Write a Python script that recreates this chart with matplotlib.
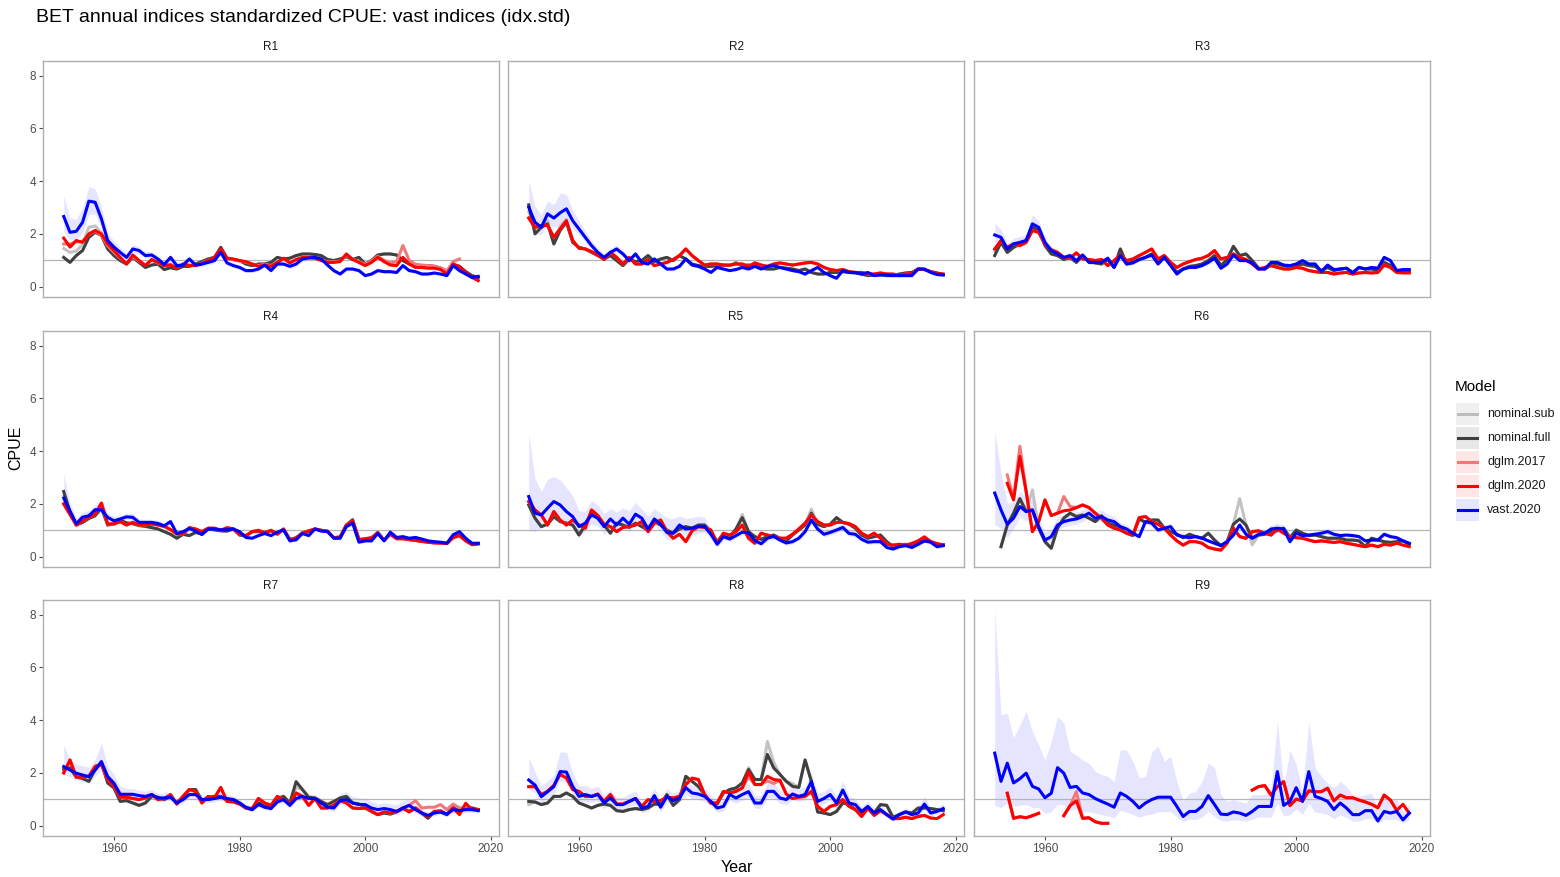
import matplotlib
matplotlib.use('Agg')
import matplotlib.pyplot as plt
import numpy as np
from matplotlib.patches import Rectangle

plt.rcParams['font.family'] = ['Liberation Sans', 'DejaVu Sans']

YEARS = list(range(1952, 2019))
REGIONS = ['R1', 'R2', 'R3', 'R4', 'R5', 'R6', 'R7', 'R8', 'R9']
MODELS = ['nominal.sub', 'nominal.full', 'dglm.2017', 'dglm.2020', 'vast.2020']
TITLE = 'BET annual indices standardized CPUE: vast indices (idx.std)'
X_TICKS = [1960, 1980, 2000, 2020]
Y_TICKS = [0, 2, 4, 6, 8]

# ---------------- R1 ----------------
R1_vast = [2.66, 2.06, 2.10, 2.44, 3.24, 3.20, 2.57, 1.75, 1.50, 1.30,
           1.11, 1.43, 1.37, 1.18, 1.20, 1.05, 0.84, 1.11, 0.80, 0.82,
           1.05, 0.82, 0.86, 0.92, 0.99, 1.30, 0.90, 0.80, 0.73, 0.61,
           0.61, 0.67, 0.82, 0.61, 0.86, 0.86, 0.77, 0.86, 1.05, 1.09,
           1.11, 1.05, 0.82, 0.61, 0.48, 0.67, 0.67, 0.61, 0.42, 0.48,
           0.61, 0.57, 0.57, 0.54, 0.80, 0.61, 0.57, 0.48, 0.48, 0.52,
           0.48, 0.42, 0.80, 0.61, 0.48, 0.35, 0.39]
R1_vast_up = [0.80, 0.55, 0.45, 0.55, 0.55, 0.50, 0.45, 0.30, 0.22, 0.18,
              0.15, 0.15, 0.14, 0.14, 0.13, 0.13, 0.12, 0.12, 0.12, 0.12,
              0.12, 0.11, 0.11, 0.11, 0.11, 0.12, 0.10, 0.10, 0.10, 0.09,
              0.09, 0.09, 0.10, 0.09, 0.10, 0.10, 0.09, 0.10, 0.11, 0.11,
              0.11, 0.11, 0.10, 0.09, 0.08, 0.09, 0.09, 0.09, 0.08, 0.08,
              0.09, 0.09, 0.09, 0.08, 0.10, 0.09, 0.09, 0.08, 0.08, 0.08,
              0.08, 0.08, 0.10, 0.09, 0.08, 0.07, 0.08]
R1_vast_dn = [0.55, 0.30, 0.30, 0.40, 0.50, 0.45, 0.35, 0.20, 0.15, 0.12,
              0.11, 0.12, 0.12, 0.11, 0.11, 0.10, 0.09, 0.10, 0.09, 0.09,
              0.10, 0.09, 0.09, 0.09, 0.09, 0.10, 0.09, 0.08, 0.08, 0.07,
              0.07, 0.07, 0.08, 0.07, 0.08, 0.08, 0.08, 0.08, 0.09, 0.09,
              0.09, 0.09, 0.08, 0.07, 0.06, 0.07, 0.07, 0.07, 0.06, 0.06,
              0.07, 0.07, 0.07, 0.06, 0.08, 0.07, 0.07, 0.06, 0.06, 0.06,
              0.06, 0.06, 0.08, 0.07, 0.06, 0.05, 0.06]
R1_dglm20 = [1.84, 1.50, 1.75, 1.68, 2.00, 2.13, 2.00, 1.62, 1.37, 1.11,
             0.86, 1.20, 0.99, 0.80, 1.03, 0.92, 0.80, 0.82, 0.70, 0.86,
             0.80, 0.80, 0.86, 0.99, 1.11, 1.43, 1.08, 1.05, 0.99, 0.95,
             0.86, 0.77, 0.82, 0.77, 0.92, 1.08, 0.90, 1.03, 1.11, 1.11,
             1.08, 0.99, 0.92, 0.92, 0.95, 1.24, 1.03, 0.92, 0.80, 0.92,
             1.11, 0.95, 0.82, 0.80, 1.11, 0.86, 0.73, 0.73, 0.70, 0.70,
             0.65, 0.48, 0.86, 0.77, 0.54, 0.35, 0.23]
R1_dglm17 = [1.62, 1.62, 1.70, 1.72, 1.98, 2.10, 1.95, 1.55, 1.30, 1.08,
             0.88, 1.15, 0.97, 0.82, 1.00, 0.90, 0.82, 0.85, 0.72, 0.86,
             0.82, 0.82, 0.88, 1.00, 1.10, 1.40, 1.05, 1.02, 0.97, 0.93,
             0.86, 0.80, 0.85, 0.80, 0.92, 1.05, 0.92, 1.02, 1.08, 1.10,
             1.08, 1.00, 0.95, 0.95, 0.97, 1.20, 1.05, 0.95, 0.85, 0.97,
             1.15, 1.00, 0.90, 0.95, 1.56, 1.00, 0.85, 0.82, 0.80, 0.78,
             0.72, 0.60, 0.95, 1.05, None, None, None]
R1_nomfull = [1.11, 0.92, 1.18, 1.37, 1.87, 2.06, 1.94, 1.43, 1.18, 0.99,
              0.86, 1.11, 0.92, 0.73, 0.82, 0.86, 0.65, 0.72, 0.67, 0.77,
              0.77, 0.86, 0.95, 1.05, 1.11, 1.49, 1.08, 1.03, 0.99, 0.86,
              0.80, 0.86, 0.86, 0.92, 1.11, 1.05, 1.08, 1.18, 1.24, 1.24,
              1.22, 1.18, 1.03, 0.99, 1.05, 1.14, 1.03, 1.11, 0.86, 0.99,
              1.20, 1.24, 1.24, 1.20, 0.99, 0.86, 0.80, 0.80, 0.80, 0.77,
              0.70, 0.57, 0.80, 0.77, 0.57, 0.42, 0.35]
R1_nomsub_diff = {1952: 1.45, 1953: 1.30, 1954: 1.35, 1955: 1.60, 1956: 2.25,
                  1957: 2.30, 1958: 2.05, 1959: 1.50}

# ---------------- R2 ----------------
R2_vast = [3.01, 2.44, 2.25, 2.76, 2.60, 2.80, 2.95, 2.50, 2.19, 1.87,
           1.56, 1.30, 1.11, 1.30, 1.43, 1.24, 0.99, 1.24, 0.92, 0.86,
           1.05, 0.86, 0.67, 0.67, 0.77, 1.05, 0.82, 0.77, 0.67, 0.54,
           0.73, 0.67, 0.61, 0.65, 0.73, 0.67, 0.77, 0.67, 0.77, 0.80,
           0.73, 0.67, 0.61, 0.57, 0.48, 0.61, 0.73, 0.54, 0.42, 0.32,
           0.61, 0.54, 0.54, 0.48, 0.54, 0.42, 0.44, 0.44, 0.42, 0.42,
           0.42, 0.42, 0.67, 0.67, 0.54, 0.46, 0.44]
R2_vast_up = [1.00, 0.60, 0.50, 0.50, 0.50, 0.75, 0.55, 0.40, 0.30, 0.25,
              0.20, 0.16, 0.14, 0.15, 0.16, 0.14, 0.12, 0.14, 0.11, 0.10,
              0.12, 0.10, 0.08, 0.08, 0.09, 0.12, 0.09, 0.09, 0.08, 0.07,
              0.08, 0.08, 0.07, 0.07, 0.08, 0.08, 0.09, 0.08, 0.09, 0.09,
              0.08, 0.07, 0.06, 0.07, 0.08, 0.06, 0.05, 0.05, 0.07, 0.06,
              0.07, 0.06, 0.06, 0.06, 0.05, 0.05, 0.05, 0.05, 0.05, 0.05,
              0.05, 0.06, 0.08, 0.07, 0.06, 0.05, 0.05]
R2_vast_dn = [0.55, 0.40, 0.30, 0.35, 0.35, 0.40, 0.35, 0.30, 0.20, 0.16,
              0.14, 0.12, 0.10, 0.11, 0.12, 0.10, 0.09, 0.10, 0.08, 0.08,
              0.09, 0.08, 0.06, 0.06, 0.07, 0.09, 0.07, 0.07, 0.06, 0.05,
              0.06, 0.06, 0.05, 0.05, 0.06, 0.06, 0.07, 0.06, 0.07, 0.07,
              0.06, 0.05, 0.05, 0.05, 0.06, 0.05, 0.04, 0.04, 0.05, 0.05,
              0.05, 0.05, 0.05, 0.05, 0.04, 0.04, 0.04, 0.04, 0.04, 0.04,
              0.04, 0.05, 0.06, 0.05, 0.05, 0.04, 0.04]
R2_dglm20 = [2.60, 2.25, 2.32, 2.32, 1.87, 2.19, 2.50, 1.75, 1.46, 1.43,
             1.33, 1.20, 1.03, 1.30, 1.11, 0.86, 1.11, 0.86, 0.86, 1.03,
             0.80, 0.86, 0.92, 1.03, 1.18, 1.43, 1.18, 0.99, 0.82, 0.86,
             0.86, 0.82, 0.82, 0.86, 0.86, 0.77, 0.90, 0.82, 0.77, 0.86,
             0.90, 0.86, 0.82, 0.86, 0.90, 0.92, 0.86, 0.73, 0.65, 0.61,
             0.65, 0.57, 0.54, 0.54, 0.48, 0.48, 0.52, 0.48, 0.48, 0.42,
             0.48, 0.50, 0.67, 0.65, 0.57, 0.50, 0.48]
R2_nomfull = [3.10, 2.00, 2.25, 2.38, 1.62, 2.13, 2.44, 1.68, 1.49, 1.43,
              1.30, 1.18, 1.05, 1.18, 0.99, 0.80, 1.05, 0.95, 0.99, 1.18,
              0.95, 1.05, 1.11, 0.99, 1.18, 1.05, 0.86, 0.80, 0.77, 0.77,
              0.80, 0.82, 0.80, 0.90, 0.80, 0.82, 0.80, 0.70, 0.67, 0.67,
              0.73, 0.70, 0.67, 0.61, 0.67, 0.54, 0.48, 0.48, 0.54, 0.54,
              0.57, 0.54, 0.52, 0.48, 0.42, 0.44, 0.47, 0.42, 0.42, 0.48,
              0.52, 0.54, 0.67, 0.65, 0.57, 0.52, 0.47]
R2_nomsub_diff = {1952: 2.85, 1953: 2.20, 1955: 2.50, 1957: 2.30, 1958: 2.55}

# ---------------- R3 ----------------
R3_vast = [1.96, 1.87, 1.43, 1.62, 1.68, 1.75, 2.38, 2.25, 1.68, 1.37,
           1.24, 1.11, 1.18, 0.99, 1.20, 0.92, 0.92, 0.92, 1.08, 0.73,
           1.18, 0.86, 0.90, 1.03, 1.11, 1.20, 0.86, 1.11, 0.80, 0.48,
           0.67, 0.73, 0.73, 0.80, 0.92, 1.08, 0.70, 0.86, 1.20, 0.99,
           0.99, 0.90, 0.67, 0.67, 0.92, 0.92, 0.82, 0.80, 0.86, 0.99,
           0.86, 0.86, 0.57, 0.82, 0.65, 0.67, 0.70, 0.52, 0.73, 0.67,
           0.73, 0.70, 1.11, 0.99, 0.61, 0.65, 0.65]
R3_vast_up = [0.45, 0.30, 0.20, 0.22, 0.22, 0.22, 0.35, 0.25, 0.18, 0.14,
              0.12, 0.11, 0.12, 0.10, 0.12, 0.10, 0.10, 0.10, 0.11, 0.08,
              0.11, 0.09, 0.09, 0.10, 0.10, 0.11, 0.09, 0.10, 0.08, 0.06,
              0.07, 0.07, 0.07, 0.08, 0.09, 0.10, 0.07, 0.08, 0.11, 0.09,
              0.09, 0.08, 0.07, 0.07, 0.08, 0.08, 0.08, 0.07, 0.08, 0.09,
              0.08, 0.08, 0.06, 0.08, 0.06, 0.07, 0.07, 0.06, 0.07, 0.07,
              0.07, 0.07, 0.10, 0.09, 0.06, 0.06, 0.06]
R3_vast_dn = [0.30, 0.22, 0.15, 0.17, 0.17, 0.17, 0.25, 0.20, 0.14, 0.11,
              0.10, 0.09, 0.10, 0.08, 0.10, 0.08, 0.08, 0.08, 0.09, 0.07,
              0.09, 0.07, 0.07, 0.08, 0.08, 0.09, 0.07, 0.08, 0.07, 0.05,
              0.06, 0.06, 0.06, 0.07, 0.07, 0.08, 0.06, 0.07, 0.09, 0.07,
              0.07, 0.07, 0.06, 0.06, 0.07, 0.07, 0.07, 0.06, 0.07, 0.07,
              0.07, 0.07, 0.05, 0.07, 0.05, 0.06, 0.06, 0.05, 0.06, 0.06,
              0.06, 0.06, 0.08, 0.07, 0.05, 0.05, 0.05]
R3_dglm20 = [1.43, 1.75, 1.49, 1.62, 1.56, 1.68, 2.13, 2.06, 1.62, 1.40,
             1.30, 1.11, 1.08, 1.28, 1.05, 1.03, 0.99, 1.03, 0.80, 0.99,
             1.20, 0.99, 1.05, 1.18, 1.30, 1.43, 1.05, 1.18, 0.92, 0.73,
             0.86, 0.95, 1.03, 1.08, 1.18, 1.37, 1.05, 1.11, 1.24, 1.11,
             1.03, 0.86, 0.67, 0.73, 0.80, 0.73, 0.67, 0.67, 0.73, 0.70,
             0.61, 0.57, 0.54, 0.54, 0.48, 0.52, 0.54, 0.48, 0.52, 0.54,
             0.52, 0.54, 0.82, 0.73, 0.54, 0.52, 0.52]
R3_nomfull = [1.18, 1.68, 1.30, 1.49, 1.62, 1.75, 2.25, 2.13, 1.56, 1.24,
              1.18, 1.03, 1.11, 0.92, 1.18, 0.95, 0.90, 0.86, 1.03, 0.73,
              1.43, 0.86, 0.95, 1.03, 1.11, 1.24, 0.95, 1.11, 0.86, 0.54,
              0.67, 0.77, 0.80, 0.86, 0.99, 1.18, 0.80, 1.03, 1.53, 1.18,
              1.24, 0.99, 0.70, 0.67, 0.82, 0.86, 0.80, 0.73, 0.80, 0.86,
              0.80, 0.77, 0.61, 0.73, 0.61, 0.67, 0.70, 0.54, 0.73, 0.67,
              0.67, 0.61, 0.92, 0.80, 0.57, 0.57, 0.57]
R3_nomsub_diff = {1952: 1.35, 1958: 2.35}

# ---------------- R4 ----------------
R4_vast = [2.22, 1.73, 1.25, 1.50, 1.55, 1.78, 1.78, 1.49, 1.36, 1.43,
           1.51, 1.49, 1.30, 1.30, 1.30, 1.26, 1.17, 1.33, 0.88, 0.95,
           1.07, 0.97, 0.84, 1.05, 1.05, 1.02, 1.02, 1.05, 0.95, 0.73,
           0.70, 0.80, 0.88, 0.80, 0.93, 1.02, 0.60, 0.64, 0.88, 0.80,
           1.05, 0.97, 0.95, 0.70, 0.70, 1.14, 1.27, 0.55, 0.60, 0.60,
           0.88, 0.60, 0.93, 0.73, 0.76, 0.70, 0.73, 0.67, 0.60, 0.57,
           0.55, 0.51, 0.83, 0.95, 0.70, 0.51, 0.51]
R4_vast_up = [0.90, 0.35, 0.20, 0.20, 0.20, 0.20, 0.20, 0.18, 0.16, 0.15,
              0.14, 0.14, 0.13, 0.12, 0.12, 0.12, 0.11, 0.12, 0.09, 0.09,
              0.10, 0.09, 0.08, 0.09, 0.09, 0.09, 0.09, 0.09, 0.09, 0.07,
              0.07, 0.07, 0.08, 0.07, 0.08, 0.09, 0.06, 0.06, 0.08, 0.07,
              0.09, 0.08, 0.08, 0.07, 0.07, 0.10, 0.11, 0.06, 0.06, 0.06,
              0.08, 0.06, 0.08, 0.07, 0.07, 0.06, 0.07, 0.06, 0.06, 0.05,
              0.05, 0.05, 0.07, 0.08, 0.06, 0.05, 0.05]
R4_vast_dn = [0.40, 0.25, 0.15, 0.15, 0.15, 0.15, 0.15, 0.14, 0.12, 0.12,
              0.11, 0.11, 0.10, 0.10, 0.10, 0.10, 0.09, 0.10, 0.07, 0.07,
              0.08, 0.07, 0.06, 0.07, 0.07, 0.07, 0.07, 0.07, 0.07, 0.06,
              0.06, 0.06, 0.06, 0.06, 0.06, 0.07, 0.05, 0.05, 0.06, 0.06,
              0.07, 0.06, 0.06, 0.06, 0.06, 0.08, 0.09, 0.05, 0.05, 0.05,
              0.06, 0.05, 0.06, 0.06, 0.06, 0.05, 0.06, 0.05, 0.05, 0.04,
              0.04, 0.04, 0.06, 0.06, 0.05, 0.04, 0.04]
R4_dglm20 = [2.00, 1.60, 1.20, 1.35, 1.50, 1.60, 2.03, 1.24, 1.24, 1.33,
             1.20, 1.30, 1.20, 1.20, 1.24, 1.20, 1.15, 1.03, 0.86, 0.86,
             1.10, 1.05, 0.95, 1.08, 1.08, 1.00, 1.10, 1.05, 0.85, 0.80,
             0.95, 1.00, 0.90, 1.00, 0.85, 1.05, 0.65, 0.70, 0.90, 0.98,
             1.05, 1.00, 0.97, 0.72, 0.75, 1.20, 1.35, 0.65, 0.68, 0.72,
             0.90, 0.62, 0.85, 0.68, 0.68, 0.65, 0.62, 0.58, 0.55, 0.52,
             0.52, 0.50, 0.72, 0.80, 0.60, 0.45, 0.48]
R4_nomfull = [2.47, 1.70, 1.20, 1.30, 1.45, 1.55, 1.85, 1.20, 1.25, 1.38,
              1.28, 1.25, 1.18, 1.15, 1.10, 1.05, 0.95, 0.85, 0.70, 0.85,
              0.80, 0.92, 0.86, 1.05, 1.02, 0.98, 0.97, 1.05, 0.82, 0.78,
              0.95, 0.95, 0.93, 0.98, 0.88, 1.02, 0.65, 0.72, 0.90, 0.95,
              1.05, 1.00, 0.95, 0.72, 0.72, 1.20, 1.40, 0.65, 0.65, 0.68,
              0.92, 0.62, 0.88, 0.70, 0.70, 0.65, 0.62, 0.58, 0.56, 0.54,
              0.52, 0.50, 0.75, 0.82, 0.62, 0.48, 0.50]
R4_nomsub_diff = {1952: 2.30, 1958: 1.95}

# ---------------- R5 ----------------
R5_vast = [2.28, 1.65, 1.58, 1.84, 2.09, 1.96, 1.71, 1.52, 1.14, 1.27,
           1.58, 1.46, 1.14, 1.43, 1.20, 1.46, 1.23, 1.61, 1.46, 1.05,
           1.43, 1.23, 0.92, 0.89, 1.20, 1.05, 1.08, 1.14, 1.14, 0.85,
           0.47, 0.76, 0.67, 0.80, 0.93, 0.90, 0.61, 0.49, 0.70, 0.77,
           0.63, 0.52, 0.57, 0.70, 0.95, 1.39, 1.05, 0.85, 0.92, 1.01,
           1.11, 0.88, 0.85, 0.66, 0.55, 0.57, 0.57, 0.35, 0.29, 0.38,
           0.42, 0.35, 0.47, 0.60, 0.55, 0.38, 0.42]
R5_vast_up = [2.40, 1.30, 0.90, 1.10, 0.95, 0.95, 0.90, 0.80, 0.60, 0.45,
              0.55, 0.50, 0.50, 0.40, 0.50, 0.40, 0.50, 0.45, 0.35, 0.50,
              0.40, 0.40, 0.55, 0.55, 0.35, 0.40, 0.40, 0.40, 0.35, 0.20,
              0.12, 0.14, 0.13, 0.14, 0.15, 0.15, 0.12, 0.11, 0.13, 0.14,
              0.12, 0.11, 0.12, 0.13, 0.15, 0.20, 0.16, 0.14, 0.15, 0.15,
              0.16, 0.14, 0.14, 0.12, 0.11, 0.11, 0.11, 0.09, 0.08, 0.09,
              0.09, 0.09, 0.10, 0.11, 0.10, 0.09, 0.09]
R5_vast_dn = [1.30, 0.70, 0.50, 0.60, 0.50, 0.50, 0.45, 0.40, 0.35, 0.30,
              0.35, 0.30, 0.30, 0.28, 0.30, 0.28, 0.30, 0.28, 0.25, 0.28,
              0.25, 0.25, 0.28, 0.28, 0.22, 0.25, 0.25, 0.25, 0.22, 0.15,
              0.09, 0.10, 0.10, 0.10, 0.11, 0.11, 0.09, 0.08, 0.10, 0.10,
              0.09, 0.08, 0.09, 0.10, 0.11, 0.14, 0.12, 0.10, 0.11, 0.11,
              0.12, 0.10, 0.10, 0.09, 0.08, 0.08, 0.08, 0.07, 0.06, 0.07,
              0.07, 0.07, 0.08, 0.08, 0.08, 0.07, 0.07]
R5_dglm20 = [2.09, 1.77, 1.58, 1.20, 1.71, 1.39, 1.20, 1.39, 1.20, 1.08,
             1.77, 1.56, 1.23, 1.14, 0.95, 1.11, 1.14, 1.20, 1.33, 0.95,
             1.27, 1.39, 0.95, 0.70, 0.85, 0.57, 0.98, 1.14, 1.11, 1.01,
             0.51, 0.89, 0.82, 0.95, 1.20, 0.70, 0.51, 0.89, 0.82, 0.76,
             0.70, 0.70, 0.85, 1.05, 1.27, 1.58, 1.33, 1.20, 1.20, 1.30,
             1.30, 1.25, 1.14, 0.89, 0.76, 0.89, 0.70, 0.48, 0.44, 0.47,
             0.44, 0.50, 0.60, 0.75, 0.57, 0.50, 0.45]
R5_nomfull = [1.96, 1.46, 1.14, 1.23, 1.52, 1.33, 1.27, 1.20, 0.82, 1.20,
              1.71, 1.46, 1.20, 0.89, 1.27, 1.20, 1.11, 1.27, 1.14, 1.01,
              1.33, 1.20, 1.01, 0.89, 1.05, 1.14, 1.08, 1.20, 1.20, 0.95,
              0.57, 0.85, 0.76, 1.05, 1.48, 0.95, 0.76, 0.66, 0.76, 0.82,
              0.70, 0.60, 0.82, 1.01, 1.20, 1.65, 1.23, 1.14, 1.23, 1.48,
              1.30, 1.23, 1.08, 0.82, 0.70, 0.76, 0.82, 0.57, 0.38, 0.44,
              0.47, 0.38, 0.51, 0.60, 0.57, 0.45, 0.45]
R5_nomsub_diff = {1986: 1.60, 1997: 1.80}

# ---------------- R6 ----------------
R6_vast = [2.41, 1.77, 1.23, 1.46, 1.90, 1.71, 1.77, 1.14, 0.63, 0.76,
           1.20, 1.33, 1.39, 1.43, 1.52, 1.65, 1.46, 1.52, 1.39, 1.33,
           1.14, 1.05, 0.89, 0.76, 1.33, 1.27, 1.01, 1.08, 1.14, 0.82,
           0.76, 0.72, 0.76, 0.70, 0.60, 0.51, 0.42, 0.57, 0.82, 1.20,
           0.85, 0.70, 0.85, 0.89, 1.05, 1.08, 1.05, 0.57, 0.89, 0.80,
           0.82, 0.85, 0.89, 0.95, 0.85, 0.80, 0.82, 0.80, 0.76, 0.60,
           0.63, 0.63, 0.85, 0.76, 0.72, 0.60, 0.51]
R6_vast_up = [2.35, 1.40, 0.80, 0.60, 0.60, 0.50, 0.40, 0.35, 0.30, 0.30,
              0.30, 0.28, 0.28, 0.26, 0.26, 0.25, 0.24, 0.24, 0.22, 0.20,
              0.16, 0.15, 0.14, 0.12, 0.15, 0.14, 0.12, 0.12, 0.12, 0.10,
              0.10, 0.10, 0.10, 0.10, 0.09, 0.08, 0.08, 0.09, 0.10, 0.14,
              0.11, 0.10, 0.11, 0.12, 0.15, 0.18, 0.16, 0.10, 0.12, 0.11,
              0.11, 0.11, 0.11, 0.12, 0.11, 0.10, 0.10, 0.10, 0.10, 0.09,
              0.09, 0.09, 0.11, 0.10, 0.09, 0.08, 0.07]
R6_vast_dn = [1.20, 0.70, 0.50, 0.40, 0.40, 0.35, 0.30, 0.25, 0.20, 0.22,
              0.22, 0.20, 0.20, 0.19, 0.19, 0.18, 0.17, 0.17, 0.16, 0.15,
              0.12, 0.11, 0.10, 0.09, 0.11, 0.10, 0.09, 0.09, 0.09, 0.08,
              0.08, 0.08, 0.08, 0.08, 0.07, 0.06, 0.06, 0.07, 0.08, 0.10,
              0.08, 0.08, 0.08, 0.09, 0.10, 0.12, 0.11, 0.08, 0.09, 0.08,
              0.08, 0.08, 0.08, 0.09, 0.08, 0.08, 0.08, 0.08, 0.08, 0.07,
              0.07, 0.07, 0.08, 0.08, 0.07, 0.06, 0.06]
R6_dglm20 = [None, None, 2.78, 2.15, 3.80, 2.47, 0.95, 1.33, 2.15, 1.56,
             1.65, 1.74, 1.77, 1.86, 1.96, 1.86, 1.65, 1.46, 1.20, 1.08,
             1.01, 0.89, 0.82, 1.48, 1.52, 1.33, 1.23, 1.08, 0.82, 0.60,
             0.44, 0.57, 0.57, 0.51, 0.35, 0.29, 0.25, 0.51, 1.08, 0.76,
             0.70, 0.95, 0.98, 0.89, 0.82, 1.05, 0.89, 0.76, 0.72, 0.70,
             0.63, 0.57, 0.60, 0.57, 0.54, 0.57, 0.51, 0.47, 0.42, 0.38,
             0.44, 0.38, 0.47, 0.44, 0.51, 0.44, 0.38]
R6_dglm17_diff = {1954: 3.10, 1955: 2.20, 1956: 4.18, 1957: 2.50, 1963: 2.28, 1964: 1.90}
R6_nomfull = [None, 0.38, 1.20, 1.65, 2.20, 1.71, 1.77, 1.08, 0.57, 0.32,
              1.08, 1.46, 1.65, 1.52, 1.58, 1.46, 1.33, 1.55, 1.27, 1.20,
              1.05, 0.89, 0.80, 1.43, 1.30, 1.39, 1.39, 1.08, 0.95, 0.85,
              0.72, 0.85, 0.76, 0.70, 0.89, 0.63, 0.42, 0.57, 1.23, 1.43,
              1.20, 0.70, 0.82, 0.85, 0.95, 0.98, 1.08, 0.72, 1.01, 0.89,
              0.80, 0.82, 0.76, 0.70, 0.70, 0.70, 0.63, 0.63, 0.60, 0.38,
              0.70, 0.63, 0.57, 0.54, 0.57, 0.60, 0.47]
R6_nomsub_diff = {1958: 2.53, 1991: 2.20, 1993: 0.45}

# ---------------- R7 ----------------
R7_vast = [2.24, 2.11, 1.99, 1.92, 1.86, 2.11, 2.43, 1.86, 1.61, 1.19,
           1.19, 1.19, 1.14, 1.11, 1.18, 1.05, 1.05, 1.08, 0.86, 0.99,
           1.18, 1.18, 0.99, 0.99, 1.03, 1.08, 1.03, 0.99, 0.86, 0.70,
           0.61, 0.80, 0.70, 0.65, 0.90, 0.99, 0.77, 1.03, 1.11, 1.03,
           1.03, 0.86, 0.70, 0.67, 0.95, 0.99, 0.86, 0.80, 0.80, 0.67,
           0.61, 0.65, 0.61, 0.54, 0.67, 0.77, 0.61, 0.48, 0.39, 0.48,
           0.52, 0.44, 0.61, 0.57, 0.61, 0.61, 0.57]
R7_vast_up = [0.80, 0.40, 0.35, 0.35, 0.35, 0.40, 0.70, 0.40, 0.35, 0.30,
              0.22, 0.22, 0.20, 0.20, 0.20, 0.18, 0.18, 0.18, 0.16, 0.16,
              0.18, 0.18, 0.16, 0.16, 0.16, 0.16, 0.15, 0.15, 0.14, 0.12,
              0.12, 0.13, 0.12, 0.12, 0.14, 0.15, 0.13, 0.15, 0.16, 0.15,
              0.16, 0.15, 0.15, 0.20, 0.28, 0.30, 0.25, 0.25, 0.25, 0.25,
              0.22, 0.22, 0.22, 0.25, 0.28, 0.25, 0.18, 0.15, 0.13, 0.14,
              0.14, 0.13, 0.15, 0.15, 0.15, 0.15, 0.14]
R7_vast_dn = [0.30, 0.25, 0.25, 0.25, 0.25, 0.25, 0.30, 0.25, 0.22, 0.18,
              0.15, 0.15, 0.14, 0.14, 0.14, 0.13, 0.13, 0.13, 0.12, 0.12,
              0.13, 0.13, 0.12, 0.12, 0.12, 0.12, 0.11, 0.11, 0.10, 0.09,
              0.09, 0.10, 0.09, 0.09, 0.10, 0.11, 0.10, 0.11, 0.12, 0.11,
              0.12, 0.11, 0.11, 0.13, 0.15, 0.16, 0.14, 0.14, 0.14, 0.14,
              0.13, 0.13, 0.13, 0.14, 0.15, 0.14, 0.12, 0.11, 0.10, 0.10,
              0.10, 0.10, 0.11, 0.11, 0.11, 0.11, 0.10]
R7_dglm20 = [2.00, 2.49, 1.84, 1.84, 1.87, 2.25, 2.32, 1.75, 1.49, 1.08,
             1.08, 1.03, 0.99, 1.05, 1.18, 0.99, 1.03, 1.18, 0.82, 1.11,
             1.37, 1.30, 0.86, 1.11, 1.05, 1.45, 0.92, 0.90, 0.82, 0.67,
             0.65, 1.03, 0.86, 0.77, 1.11, 0.99, 0.80, 1.24, 1.11, 0.77,
             1.03, 0.67, 0.67, 0.77, 0.95, 0.86, 0.67, 0.65, 0.67, 0.54,
             0.42, 0.52, 0.48, 0.54, 0.67, 0.52, 0.67, 0.48, 0.35, 0.54,
             0.57, 0.42, 0.67, 0.42, 0.85, 0.61, 0.61]
R7_dglm17_diff = {2007: 0.77, 2008: 0.95, 2009: 0.67, 2010: 0.70, 2011: 0.70,
                  2012: 0.80, 2013: 0.61, 2014: 0.82, 2015: 0.67, 2016: 0.67}
R7_nomfull = [2.13, 2.19, 1.84, 1.79, 1.68, 2.13, 2.38, 1.62, 1.43, 0.92,
              0.95, 0.86, 0.77, 0.86, 1.11, 1.08, 0.99, 1.11, 0.86, 1.11,
              1.37, 1.37, 0.95, 1.08, 1.11, 1.11, 0.95, 0.99, 0.86, 0.67,
              0.61, 0.86, 0.82, 0.67, 1.03, 1.11, 0.86, 1.67, 1.37, 1.08,
              1.05, 0.92, 0.80, 0.92, 1.05, 1.11, 0.86, 0.82, 0.73, 0.54,
              0.42, 0.48, 0.44, 0.52, 0.65, 0.54, 0.67, 0.48, 0.28, 0.54,
              0.52, 0.42, 0.70, 0.54, 0.67, 0.67, 0.61]
R7_nomsub_diff = {1989: 1.45}

# ---------------- R8 ----------------
R8_vast = [1.73, 1.54, 1.10, 1.29, 1.48, 2.05, 2.03, 1.49, 1.11, 1.18,
           1.11, 1.18, 0.86, 1.05, 0.80, 0.80, 0.92, 1.03, 0.67, 0.73,
           1.14, 0.70, 1.11, 0.95, 1.05, 1.44, 1.24, 1.20, 1.11, 0.92,
           0.67, 0.73, 1.18, 1.05, 1.18, 1.29, 0.86, 0.86, 1.30, 1.30,
           1.05, 0.99, 1.20, 1.11, 1.18, 1.67, 0.92, 1.03, 1.18, 0.86,
           1.35, 0.86, 0.80, 0.54, 0.73, 0.48, 0.61, 0.42, 0.25, 0.42,
           0.52, 0.42, 0.48, 0.82, 0.48, 0.54, 0.65]
R8_vast_up = [0.85, 0.50, 0.40, 0.40, 0.45, 0.75, 0.75, 0.50, 0.40, 0.35,
              0.30, 0.32, 0.30, 0.30, 0.28, 0.28, 0.28, 0.30, 0.25, 0.25,
              0.30, 0.25, 0.30, 0.28, 0.28, 0.35, 0.30, 0.30, 0.28, 0.25,
              0.22, 0.25, 0.30, 0.28, 0.30, 0.32, 0.28, 0.28, 0.32, 0.32,
              0.28, 0.28, 0.30, 0.28, 0.30, 0.35, 0.30, 0.28, 0.30, 0.28,
              0.35, 0.25, 0.22, 0.18, 0.20, 0.16, 0.18, 0.15, 0.12, 0.15,
              0.16, 0.15, 0.16, 0.30, 0.16, 0.16, 0.18]
R8_vast_dn = [0.35, 0.30, 0.25, 0.25, 0.28, 0.35, 0.35, 0.28, 0.25, 0.25,
              0.22, 0.24, 0.22, 0.22, 0.20, 0.20, 0.20, 0.22, 0.18, 0.18,
              0.22, 0.18, 0.22, 0.20, 0.20, 0.25, 0.22, 0.22, 0.20, 0.18,
              0.16, 0.18, 0.22, 0.20, 0.22, 0.24, 0.20, 0.20, 0.24, 0.24,
              0.20, 0.20, 0.22, 0.20, 0.22, 0.26, 0.22, 0.20, 0.22, 0.20,
              0.25, 0.18, 0.16, 0.13, 0.15, 0.12, 0.14, 0.11, 0.09, 0.11,
              0.12, 0.11, 0.12, 0.20, 0.12, 0.12, 0.13]
R8_dglm20 = [1.48, 1.48, 1.18, 1.30, 1.53, 1.94, 1.81, 1.37, 1.30, 1.11,
             1.11, 1.20, 0.92, 1.18, 0.82, 0.82, 0.92, 1.03, 0.73, 0.99,
             0.92, 0.95, 1.08, 1.05, 1.11, 1.56, 1.80, 1.75, 1.18, 0.86,
             0.86, 1.30, 1.24, 1.30, 1.43, 2.05, 1.56, 1.56, 1.87, 1.75,
             1.72, 1.20, 1.03, 1.08, 1.11, 1.30, 0.73, 0.54, 0.73, 0.80,
             0.99, 0.73, 0.61, 0.35, 0.67, 0.39, 0.57, 0.42, 0.27, 0.27,
             0.32, 0.27, 0.35, 0.39, 0.29, 0.27, 0.42]
R8_dglm17_diff = {1987: 1.85, 1990: 1.70, 1991: 1.60}
R8_nomfull = [0.92, 0.90, 0.80, 0.86, 1.11, 1.11, 1.24, 1.11, 0.86, 0.77,
              0.67, 0.77, 0.82, 0.77, 0.57, 0.54, 0.61, 0.65, 0.61, 0.67,
              0.82, 0.80, 1.18, 0.77, 0.99, 1.87, 1.68, 1.49, 1.18, 0.86,
              0.82, 1.24, 1.37, 1.43, 1.62, 2.13, 1.75, 1.75, 2.70, 2.19,
              1.94, 1.68, 1.49, 1.45, 2.49, 1.68, 0.52, 0.48, 0.42, 0.54,
              0.86, 0.80, 0.61, 0.42, 0.67, 0.48, 0.80, 0.77, 0.32, 0.42,
              0.52, 0.48, 0.67, 0.67, 0.65, 0.61, 0.57]
R8_nomsub_diff = {1952: 0.80, 1987: 2.20, 1990: 3.19, 1991: 2.40, 1994: 1.60}

# ---------------- R9 ----------------
R9_vast = [2.75, 1.68, 2.37, 1.62, 1.78, 1.99, 1.49, 1.39, 1.06, 1.23,
           2.20, 1.99, 1.45, 1.49, 1.24, 1.18, 1.03, 0.92, 0.82, 0.70,
           1.24, 1.11, 0.92, 0.67, 0.86, 0.99, 1.08, 1.08, 1.08, 0.73,
           0.35, 0.54, 0.54, 0.73, 1.14, 0.80, 0.44, 0.42, 0.52, 0.48,
           0.39, 0.54, 0.73, 0.73, 0.73, 2.05, 0.77, 0.92, 1.44, 0.92,
           2.05, 1.11, 1.03, 0.92, 0.61, 0.86, 0.67, 0.42, 0.42, 0.57,
           0.57, 0.18, 0.54, 0.48, 0.54, 0.22, 0.48]
R9_vast_up = [5.44, 2.52, 1.90, 1.70, 2.04, 2.34, 2.08, 1.67, 1.43, 1.96,
              1.94, 1.90, 1.36, 1.19, 1.25, 1.19, 1.03, 1.02, 1.05, 0.98,
              1.63, 1.76, 1.52, 1.14, 1.01, 1.82, 1.93, 1.36, 1.55, 0.95,
              0.57, 0.70, 0.76, 0.95, 1.23, 1.39, 0.74, 0.50, 0.47, 0.44,
              0.47, 0.64, 0.45, 0.45, 0.70, 1.90, 0.72, 1.95, 0.88, 0.38,
              1.90, 1.08, 0.84, 0.70, 0.82, 0.82, 0.82, 0.76, 0.69, 0.61,
              0.67, 0.49, 0.57, 0.57, 0.45, 0.32, 0.32]
R9_vast_dn = [1.97, 1.00, 1.50, 0.90, 1.00, 1.20, 0.80, 0.70, 0.60, 0.70,
              1.40, 1.20, 0.85, 0.85, 0.70, 0.65, 0.55, 0.50, 0.45, 0.40,
              0.65, 0.60, 0.50, 0.35, 0.45, 0.55, 0.55, 0.55, 0.55, 0.40,
              0.20, 0.30, 0.30, 0.40, 0.60, 0.45, 0.25, 0.25, 0.30, 0.28,
              0.22, 0.30, 0.40, 0.40, 0.40, 1.20, 0.40, 0.50, 0.80, 0.50,
              1.20, 0.60, 0.55, 0.50, 0.35, 0.45, 0.35, 0.25, 0.25, 0.30,
              0.30, 0.10, 0.30, 0.25, 0.30, 0.12, 0.25]
R9_dglm20 = [None, None, 1.23, 0.28, 0.34, 0.30, 0.38, 0.47, None, None,
             None, 0.38, 0.76, 0.94, 0.28, 0.30, 0.15, 0.09, 0.09, None,
             None, None, None, None, None, None, None, None, None, None,
             None, None, None, None, None, None, None, None, None, None,
             None, 1.35, 1.48, 1.52, 1.16, 1.48, 1.67, 0.76, 1.01, 0.94,
             1.32, 1.29, 1.29, 1.42, 0.94, 1.16, 1.06, 1.06, 0.97, 0.90,
             0.81, 0.68, 1.16, 0.97, 0.58, 0.81, 0.47]
R9_dglm17_diff = {1965: 1.29}
R9_nomfull = [None] * 67
R9_nomsub_diff = {}

# ---------------- colours ----------------
COL_NOMSUB = '#bdbdbd'
COL_NOMFULL = '#404040'
COL_DGLM17 = '#f07878'
COL_DGLM20 = '#ff0000'
COL_VAST = '#0000ff'

VAST = {'R1': R1_vast, 'R2': R2_vast, 'R3': R3_vast, 'R4': R4_vast, 'R5': R5_vast,
        'R6': R6_vast, 'R7': R7_vast, 'R8': R8_vast, 'R9': R9_vast}
VAST_UP = {'R1': R1_vast_up, 'R2': R2_vast_up, 'R3': R3_vast_up, 'R4': R4_vast_up,
           'R5': R5_vast_up, 'R6': R6_vast_up, 'R7': R7_vast_up, 'R8': R8_vast_up,
           'R9': R9_vast_up}
VAST_DN = {'R1': R1_vast_dn, 'R2': R2_vast_dn, 'R3': R3_vast_dn, 'R4': R4_vast_dn,
           'R5': R5_vast_dn, 'R6': R6_vast_dn, 'R7': R7_vast_dn, 'R8': R8_vast_dn,
           'R9': R9_vast_dn}
DGLM20 = {'R1': R1_dglm20, 'R2': R2_dglm20, 'R3': R3_dglm20, 'R4': R4_dglm20,
          'R5': R5_dglm20, 'R6': R6_dglm20, 'R7': R7_dglm20, 'R8': R8_dglm20,
          'R9': R9_dglm20}
DGLM17_DIFF = {'R2': {}, 'R3': {}, 'R4': {}, 'R5': {}, 'R6': R6_dglm17_diff,
               'R7': R7_dglm17_diff, 'R8': R8_dglm17_diff, 'R9': R9_dglm17_diff}
NOMFULL = {'R1': R1_nomfull, 'R2': R2_nomfull, 'R3': R3_nomfull, 'R4': R4_nomfull,
           'R5': R5_nomfull, 'R6': R6_nomfull, 'R7': R7_nomfull, 'R8': R8_nomfull,
           'R9': R9_nomfull}
NOMSUB_DIFF = {'R1': R1_nomsub_diff, 'R2': R2_nomsub_diff, 'R3': R3_nomsub_diff,
               'R4': R4_nomsub_diff, 'R5': R5_nomsub_diff, 'R6': R6_nomsub_diff,
               'R7': R7_nomsub_diff, 'R8': R8_nomsub_diff, 'R9': R9_nomsub_diff}


def arr(lst):
    a = np.array([np.nan if v is None else v for v in lst], dtype=float)
    n = len(YEARS)
    if len(a) < n:
        a = np.concatenate([a, np.full(n - len(a), np.nan)])
    return a[:n]


def apply_diff(base, diff, last_year=2018):
    out = []
    for y, v in zip(YEARS, base):
        if y > last_year:
            out.append(None)
        elif y in diff:
            out.append(diff[y])
        else:
            out.append(v)
    return out


W, H = 1560, 877
fig = plt.figure(figsize=(W / 100, H / 100), dpi=100)

col_left = [43, 508, 974]
row_top = [61, 331, 600]
pw, ph = 456, 236
yrs = np.array(YEARS, dtype=float)
LW = 2.2

for i, reg in enumerate(REGIONS):
    r, c = divmod(i, 3)
    ax = fig.add_axes([col_left[c] / W, 1 - (row_top[r] + ph) / H, pw / W, ph / H])
    ax.set_xlim(1948.7, 2021.3)
    ax.set_ylim(-0.39, 8.55)

    v = arr(VAST[reg])
    up = arr(VAST_UP[reg])
    dn = arr(VAST_DN[reg])
    ax.fill_between(yrs, v - dn, v + up, color=COL_VAST, alpha=0.10, lw=0, zorder=1)

    ax.axhline(1, color='#b5b5b5', lw=0.9, zorder=2)

    nf = NOMFULL[reg]
    if reg == 'R1':
        d17 = R1_dglm17
    else:
        d17 = apply_diff(DGLM20[reg], DGLM17_DIFF[reg], last_year=2016)
    ns = apply_diff(nf, NOMSUB_DIFF[reg])

    ax.plot(yrs, arr(ns), color=COL_NOMSUB, lw=LW, alpha=0.9, zorder=3,
            solid_joinstyle='round')
    ax.plot(yrs, arr(nf), color=COL_NOMFULL, lw=LW, zorder=4, solid_joinstyle='round')
    ax.plot(yrs, arr(d17), color=COL_DGLM17, lw=LW, zorder=5, solid_joinstyle='round')
    ax.plot(yrs, arr(DGLM20[reg]), color=COL_DGLM20, lw=LW, zorder=6,
            solid_joinstyle='round')
    ax.plot(yrs, v, color=COL_VAST, lw=LW, zorder=7, solid_joinstyle='round')

    for s in ax.spines.values():
        s.set_color('#b0b0b0')
        s.set_linewidth(1.0)
    ax.set_xticks(X_TICKS)
    ax.set_yticks(Y_TICKS)
    ax.tick_params(axis='both', length=3, width=0.8, color='#4d4d4d',
                   labelsize=8.5, labelcolor='#4d4d4d', pad=2)
    if c != 0:
        ax.tick_params(axis='y', left=False, labelleft=False)
    if r != 2:
        ax.tick_params(axis='x', bottom=False, labelbottom=False)

    fig.text((col_left[c] + pw / 2) / W, 1 - (row_top[r] - 14) / H, reg,
             ha='center', va='center', fontsize=8.5, color='#1a1a1a')

# overlay axis in pixel coordinates for titles / legend
ov = fig.add_axes([0, 0, 1, 1])
ov.set_xlim(0, W)
ov.set_ylim(H, 0)
ov.axis('off')
ov.patch.set_alpha(0)

ov.text(36, 17, TITLE, ha='left', va='center', fontsize=14, color='#000000')
ov.text(16, 448, 'CPUE', ha='center', va='center', rotation=90, fontsize=11.5)
ov.text(737, 867, 'Year', ha='center', va='center', fontsize=11.5)

ov.text(1455, 387, 'Model', ha='left', va='center', fontsize=11)
key_bg = ['#f0f0f0', '#e8e8e8', '#ffe6e6', '#ffe6e6', '#e6e6ff']
key_col = [COL_NOMSUB, COL_NOMFULL, COL_DGLM17, COL_DGLM20, COL_VAST]
for k, name in enumerate(MODELS):
    yc = 414 + 24 * k
    ov.add_patch(Rectangle((1456, yc - 11), 23, 22, color=key_bg[k], lw=0))
    ov.plot([1458, 1477], [yc, yc], color=key_col[k], lw=2.2)
    ov.text(1487, yc, name, ha='left', va='center', fontsize=9, color='#1a1a1a')

fig.savefig('out.png', dpi=100)
